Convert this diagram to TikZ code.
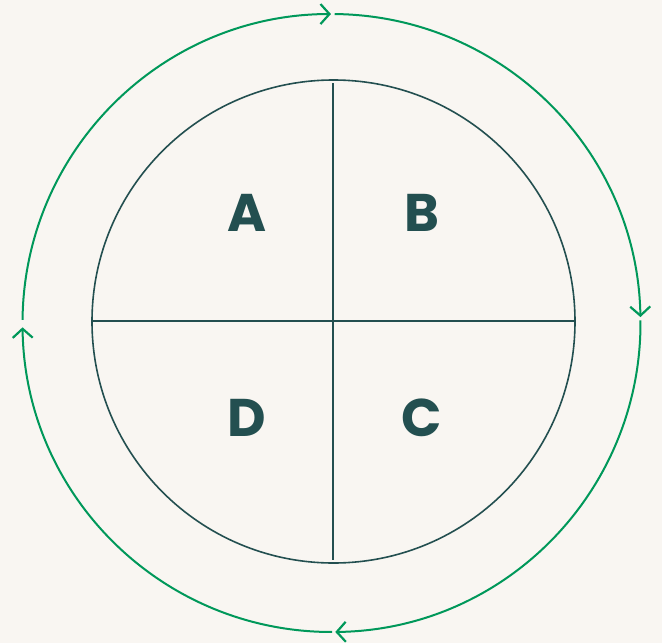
\documentclass[tikz,border=0pt]{standalone}
\usepackage{fontspec}
\setmainfont{Poppins}
\usetikzlibrary{arrows.meta}
\definecolor{bg}{HTML}{F9F6F2}
\definecolor{grn}{HTML}{00985A}
\definecolor{teal}{HTML}{234F50}
\tikzset{
  cyc/.style={draw=grn, line width=2pt, -{Straight Barb[length=9pt,width=20pt,line width=2.2pt]}},
  ln/.style={draw=teal, line width=1.6pt},
  lbl/.style={text=teal, font=\fontsize{53}{53}\selectfont\bfseries, inner sep=0pt}
}
\begin{document}
\begin{tikzpicture}[x=1pt,y=-1pt]
\fill[bg] (0,0) rectangle (662,643);
\useasboundingbox (0,0) rectangle (662,643);
\coordinate (O) at (331.5,323);
\coordinate (I) at (333.5,321.5);
% outer cycle arrows (clockwise on screen; y axis points down)
\draw[cyc] ([shift={(-179.4:309)}]O) arc[start angle=-179.4, end angle=-90.1, radius=309];
\draw[cyc] ([shift={(-89.4:309)}]O) arc[start angle=-89.4, end angle=-1.1, radius=309];
\draw[cyc] ([shift={(-0.5:309)}]O) arc[start angle=-0.5, end angle=89.3, radius=309];
\draw[cyc] ([shift={(89.9:309)}]O) arc[start angle=89.9, end angle=179.2, radius=309];
% inner circle
\draw[ln] (I) circle[radius=241.5];
\coordinate (T) at (333,83);
\coordinate (Bt) at (333,560);
\coordinate (L) at (92,321);
\coordinate (R) at (575,321);
\draw[ln] (T) -- (Bt);
\draw[ln] (L) -- (R);
\node[lbl] (a) at (247,213) {A};
\node[lbl] (b) at (422,213) {B};
\node[lbl] (d) at (247,418) {D};
\node[lbl] (c) at (422,418) {C};
\end{tikzpicture}
\end{document}
